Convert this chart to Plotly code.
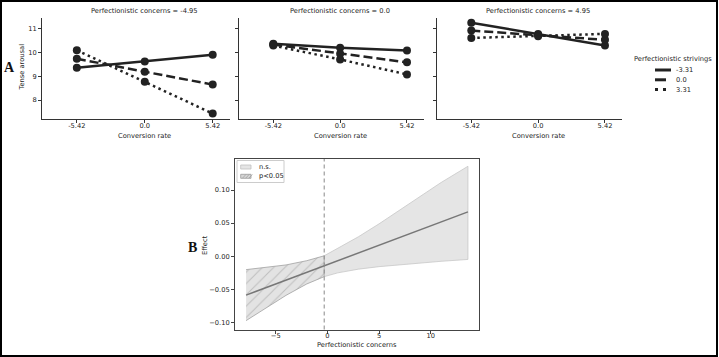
import plotly.graph_objects as go

# ---------------- data ----------------
conversion_levels = [-5.42, 0.0, 5.42]
conversion_ticktext = ["-5.42", "0.0", "5.42"]
concerns_titles = ["Perfectionistic concerns = -4.95",
                   "Perfectionistic concerns = 0.0",
                   "Perfectionistic concerns = 4.95"]
strivings_labels = ["-3.31", "0.0", "3.31"]

arousal_c1_s_low = [9.36, 9.62, 9.91]
arousal_c1_s_mid = [9.74, 9.19, 8.65]
arousal_c1_s_high = [10.10, 8.77, 7.43]

arousal_c2_s_low = [10.37, 10.20, 10.09]
arousal_c2_s_mid = [10.34, 9.95, 9.59]
arousal_c2_s_high = [10.30, 9.71, 9.08]

arousal_c3_s_low = [11.26, 10.79, 10.30]
arousal_c3_s_mid = [10.93, 10.73, 10.54]
arousal_c3_s_high = [10.62, 10.69, 10.79]

arousal_yticks = [8, 9, 10, 11]

# Johnson-Neyman plot
jn_point = -0.31
jn_x_sig = [-7.87, -6.0, -4.0, -2.0, -0.31]
jn_eff_sig = [-0.0590, -0.0480, -0.0363, -0.0245, -0.0146]
jn_up_sig = [-0.0204, -0.0173, -0.0133, -0.0069, 0.0005]
jn_lo_sig = [-0.0976, -0.0787, -0.0593, -0.0421, -0.0310]

jn_x_ns = [-0.31, 1.0, 3.0, 5.0, 7.0, 9.0, 11.0, 13.6]
jn_eff_ns = [-0.0146, -0.0069, 0.0048, 0.0165, 0.0283, 0.0400, 0.0518, 0.0670]
jn_up_ns = [0.0005, 0.0115, 0.0293, 0.0489, 0.0694, 0.0903, 0.1114, 0.1360]
jn_lo_ns = [-0.0310, -0.0253, -0.0197, -0.0159, -0.0128, -0.0103, -0.0078, -0.0050]

jn_legend_labels = ["n.s.", "p<0.05"]

effect_tickvals = [-0.10, -0.05, 0.0, 0.05, 0.10]
effect_ticktext = ["\u22120.10", "\u22120.05", "0.00", "0.05", "0.10"]
concern_tickvals = [-5, 0, 5, 10]
concern_ticktext = ["\u22125", "0", "5", "10"]

# ---------------- figure ----------------
W, H = 719, 357
FONT = "DejaVu Sans"
INK = "#222222"
FS = 6.7


def px(x):
    return x / W


def py(y):
    return 1 - y / H


fig = go.Figure()

panels = [
    ("x", "y", [arousal_c1_s_low, arousal_c1_s_mid, arousal_c1_s_high]),
    ("x2", "y2", [arousal_c2_s_low, arousal_c2_s_mid, arousal_c2_s_high]),
    ("x3", "y3", [arousal_c3_s_low, arousal_c3_s_mid, arousal_c3_s_high]),
]
dashes = ["solid", "9px,4px", "2.5px,3.5px"]

for pi, (xa, ya, series) in enumerate(panels):
    for si, vals in enumerate(series):
        fig.add_trace(go.Scatter(
            x=conversion_levels, y=vals, xaxis=xa, yaxis=ya,
            mode="lines", line=dict(color=INK, width=2.5, dash=dashes[si]),
            name=strivings_labels[si], showlegend=False,
        ))
        fig.add_trace(go.Scatter(
            x=conversion_levels, y=vals, xaxis=xa, yaxis=ya,
            mode="markers", marker=dict(color=INK, size=8),
            showlegend=False, hoverinfo="skip",
        ))

# JN band: n.s. region
fig.add_trace(go.Scatter(
    x=jn_x_ns + jn_x_ns[::-1], y=jn_up_ns + jn_lo_ns[::-1],
    xaxis="x4", yaxis="y4", mode="lines", fill="toself",
    fillcolor="#e5e5e5", line=dict(color="#c8c8c8", width=0.8),
    name=jn_legend_labels[0], showlegend=False,
))
# JN band: significant region (hatched)
fig.add_trace(go.Scatter(
    x=jn_x_sig + jn_x_sig[::-1], y=jn_up_sig + jn_lo_sig[::-1],
    xaxis="x4", yaxis="y4", mode="lines", fill="toself",
    fillcolor="#e0e0e0",
    fillpattern=dict(shape="/", fgcolor="#9a9a9a", bgcolor="#e3e3e3",
                     size=8, solidity=0.13),
    line=dict(color="#a0a0a0", width=0.8),
    name=jn_legend_labels[1], showlegend=False,
))
# effect line
fig.add_trace(go.Scatter(
    x=jn_x_sig + jn_x_ns[1:], y=jn_eff_sig + jn_eff_ns[1:],
    xaxis="x4", yaxis="y4", mode="lines",
    line=dict(color="#777777", width=1.5), showlegend=False,
))

tickfont = dict(family=FONT, size=FS, color=INK)
common_x = dict(range=[-8.2, 6.8], tickvals=conversion_levels, ticktext=conversion_ticktext,
                showline=True, linecolor="#333", linewidth=1, ticks="outside", ticklen=3,
                tickwidth=0.8, tickcolor="#333", showgrid=False, zeroline=False,
                tickfont=tickfont, automargin=False, ticklabelstandoff=-3)
common_y = dict(range=[7.2, 11.46], tickvals=arousal_yticks, showline=True, linecolor="#333",
                linewidth=1, ticks="outside", ticklen=3, tickwidth=0.8, tickcolor="#333",
                showgrid=False, zeroline=False, tickfont=tickfont, automargin=False)

fig.update_layout(
    width=W, height=H, margin=dict(l=0, r=0, t=0, b=0),
    paper_bgcolor="white", plot_bgcolor="white",
    font=dict(family=FONT, size=FS, color=INK),
    showlegend=False,
    xaxis=dict(common_x, domain=[px(42), px(230)], anchor="y"),
    xaxis2=dict(common_x, domain=[px(239), px(424)], anchor="y2"),
    xaxis3=dict(common_x, domain=[px(437), px(622)], anchor="y3"),
    yaxis=dict(common_y, domain=[py(119), py(18)], anchor="x"),
    yaxis2=dict(common_y, domain=[py(119), py(18)], anchor="x2", showticklabels=False),
    yaxis3=dict(common_y, domain=[py(119), py(18)], anchor="x3", showticklabels=False),
    xaxis4=dict(domain=[px(235), px(479)], anchor="y4", range=[-8.94, 14.67],
                tickvals=concern_tickvals, ticktext=concern_ticktext,
                showline=True, mirror=True, linecolor="#444", linewidth=1,
                ticks="outside", ticklen=3, tickwidth=0.8, tickcolor="#444",
                showgrid=False, zeroline=False, tickfont=tickfont, automargin=False,
                ticklabelstandoff=-4),
    yaxis4=dict(domain=[py(329.5), py(159)], anchor="x4", range=[-0.111, 0.147],
                tickvals=effect_tickvals, ticktext=effect_ticktext,
                showline=True, mirror=True, linecolor="#444", linewidth=1,
                ticks="outside", ticklen=3, tickwidth=0.8, tickcolor="#444",
                showgrid=False, zeroline=False, tickfont=tickfont, automargin=False),
)

shapes = []
# JN threshold line
shapes.append(dict(type="line", xref="x4", yref="y4 domain", x0=jn_point, x1=jn_point,
                   y0=0, y1=1, line=dict(color="#888888", width=1, dash="4px,3px")))
# border around the figure
shapes.append(dict(type="rect", xref="paper", yref="paper", x0=px(1), x1=px(717),
                   y0=py(356), y1=py(1), line=dict(color="black", width=2)))

ann = []
txt = dict(family=FONT, size=FS, color=INK)


def note(text, x, y, xref="paper", xanchor="center", **kw):
    d = dict(text=text, xref=xref, x=x, yref="paper", y=py(y), xanchor=xanchor,
             yanchor="middle", showarrow=False, font=kw.pop("font", txt))
    d.update(kw)
    ann.append(d)


for xa, title in zip(["x", "x2", "x3"], concerns_titles):
    note(title, 0, 11, xref=xa)
    note("Conversion rate", 0, 135.5, xref=xa)
note("Tense arousal", px(21.5), 67, textangle=-90)
note("<b>A</b>", px(9.5), 67, font=dict(family="Liberation Serif", size=14, color="#111"))
note("<b>B</b>", px(192), 247, font=dict(family="Liberation Serif", size=14, color="#111"))
note("Effect", px(205), 245, textangle=-90)
note("Perfectionistic concerns", px(357), 344.5)

# ---- legend for panel A (striving levels) ----
leg_x0, leg_title_y, leg_row0, leg_step = 655, 59.5, 70, 9.8
note("Perfectionistic strivings", px(673), leg_title_y)
for i, lab in enumerate(strivings_labels):
    yy = leg_row0 + i * leg_step
    shapes.append(dict(type="line", xref="paper", yref="paper",
                       x0=px(leg_x0), x1=px(leg_x0 + 16), y0=py(yy), y1=py(yy),
                       line=dict(color=INK, width=3, dash=["solid", "11px,6px", "3px,5px"][i])))
    note(lab, px(leg_x0 + 19), yy, xanchor="left")

# ---- legend for panel B ----
shapes.append(dict(type="rect", xref="paper", yref="paper", x0=px(237), x1=px(284),
                   y0=py(182.5), y1=py(160.5), line=dict(color="#cccccc", width=1),
                   fillcolor="rgba(255,255,255,0.8)"))
patch_styles = [("#e5e5e5", "#c0c0c0"), ("#d6d6d6", "#9a9a9a")]
for i, lab in enumerate(jn_legend_labels):
    yy = 167 + i * 9.3
    fc, lc = patch_styles[i]
    shapes.append(dict(type="rect", xref="paper", yref="paper", x0=px(240.7), x1=px(251),
                       y0=py(yy + 2), y1=py(yy - 2), line=dict(color=lc, width=0.8),
                       fillcolor=fc))
    note(lab, px(256.5), yy, xanchor="left")
# hatch strokes inside the p<0.05 patch
for k in range(3):
    hx = 242.5 + k * 3.2
    shapes.append(dict(type="line", xref="paper", yref="paper",
                       x0=px(hx), x1=px(hx + 3.5), y0=py(178.2), y1=py(174.4),
                       line=dict(color="#9a9a9a", width=0.7)))

fig.update_layout(annotations=ann, shapes=shapes)

fig.write_html("out.html", config={"displayModeBar": False},
               post_script="document.body.style.margin='0';")
